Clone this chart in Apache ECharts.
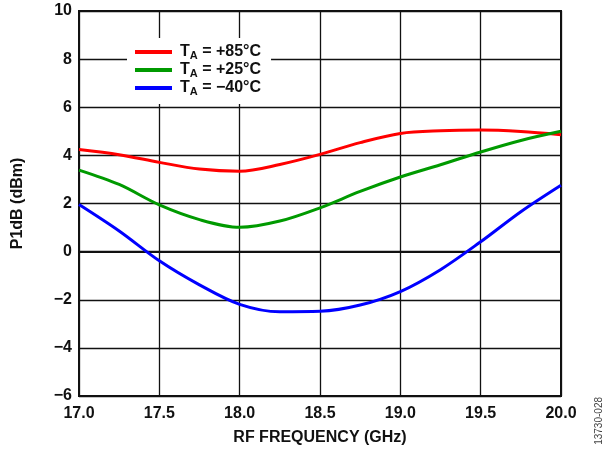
<!DOCTYPE html>
<html>
<head>
<meta charset="utf-8">
<script src="https://cdn.jsdelivr.net/npm/echarts@6/dist/echarts.min.js"></script>
<style>
  html, body { margin: 0; padding: 0; background: #fff; }
  #chart { width: 603px; height: 451px; }
</style>
</head>
<body>
<div id="chart"></div>
<script>
// RF frequency (GHz)
var freq = [17.0, 17.25, 17.5, 17.75, 18.0, 18.25, 18.5, 18.75, 19.0, 19.25, 19.5, 19.75, 20.0];
// P1dB (dBm) per temperature
var p85 = [4.24, 4.03, 3.71, 3.43, 3.34, 3.62, 4.04, 4.53, 4.91, 5.02, 5.05, 4.99, 4.86];
var p25 = [3.39, 2.79, 1.94, 1.33, 1.01, 1.27, 1.82, 2.5, 3.1, 3.61, 4.14, 4.62, 5.0];
var m40 = [1.96, 0.86, -0.38, -1.38, -2.19, -2.5, -2.48, -2.22, -1.66, -0.75, 0.41, 1.66, 2.76];
var seriesNames = ['T_A = +85°C', 'T_A = +25°C', 'T_A = \u221240°C'];
var legendText = ['{g|}{b|T}{s|A}{b| = +85°C}', '{g|}{b|T}{s|A}{b| = +25°C}', '{g|}{b|T}{s|A}{b| = \u221240°C}'];

function pairs(xs, ys) {
    var out = [];
    for (var i = 0; i < xs.length; i++) out.push([xs[i], ys[i]]);
    return out;
}

var chartDom = document.getElementById('chart');
var myChart = echarts.init(chartDom, null, { renderer: 'canvas' });
var font = 'Liberation Sans, Arial, sans-serif';

var option = {
    animation: false,
    textStyle: { fontFamily: font },
    grid: {
        left: 79, right: 42, top: 11, bottom: 55,
        show: true, borderColor: '#111', borderWidth: 2, backgroundColor: '#fff'
    },
    legend: {
        orient: 'vertical',
        left: 127, top: 38,
        icon: 'rect',
        itemWidth: 37, itemHeight: 4, itemGap: 0,
        padding: [5, 10, 7, 8],
        backgroundColor: '#fff',
        data: seriesNames,
        formatter: function (name) {
            return legendText[seriesNames.indexOf(name)];
        },
        textStyle: {
            rich: {
                g: { width: 3 },
                b: { fontFamily: font, fontSize: 16, fontWeight: 'bold', color: '#111', lineHeight: 18 },
                s: { fontFamily: font, fontSize: 11, fontWeight: 'bold', color: '#111', lineHeight: 12, padding: [7, 0, 0, 0] }
            }
        }
    },
    xAxis: {
        type: 'value', min: 17, max: 20, interval: 0.5,
        name: 'RF FREQUENCY (GHz)', nameLocation: 'middle', nameGap: 34,
        nameTextStyle: { fontFamily: font, fontSize: 16, fontWeight: 'bold', color: '#111' },
        axisLine: { lineStyle: { color: '#111', width: 2 } },
        axisTick: { show: false },
        axisLabel: {
            fontFamily: font, fontSize: 16, fontWeight: 'bold', color: '#111', margin: 10,
            formatter: function (v) { return v.toFixed(1); }
        },
        splitLine: { lineStyle: { color: '#111', width: 1.3 } }
    },
    yAxis: {
        type: 'value', min: -6, max: 10, interval: 2,
        name: 'P1dB (dBm)', nameLocation: 'middle', nameGap: 53, nameRotate: 90,
        nameTextStyle: { fontFamily: font, fontSize: 16, fontWeight: 'bold', color: '#111' },
        axisLine: { lineStyle: { color: '#111', width: 2 } },
        axisTick: { show: false },
        axisLabel: {
            fontFamily: font, fontSize: 16, fontWeight: 'bold', color: '#111', margin: 7,
            formatter: function (v) { return v < 0 ? '\u2212' + Math.abs(v) : String(v); }
        },
        splitLine: { lineStyle: { color: '#111', width: 1.3 } }
    },
    graphic: [{
        type: 'text', left: 594, top: 397, rotation: Math.PI / 2,
        style: { text: '13730-028', fontFamily: font, fontSize: 10, fill: '#444' }
    }],
    series: [
        { name: seriesNames[0], type: 'line', smooth: 0.33, symbol: 'none', data: pairs(freq, p85),
          color: '#ff0000', lineStyle: { width: 3 } },
        { name: seriesNames[1], type: 'line', smooth: 0.33, symbol: 'none', data: pairs(freq, p25),
          color: '#009a00', lineStyle: { width: 3 } },
        { name: seriesNames[2], type: 'line', smooth: 0.33, symbol: 'none', data: pairs(freq, m40),
          color: '#0000ff', lineStyle: { width: 3 } }
    ]
};

myChart.setOption(option);
</script>
</body>
</html>
